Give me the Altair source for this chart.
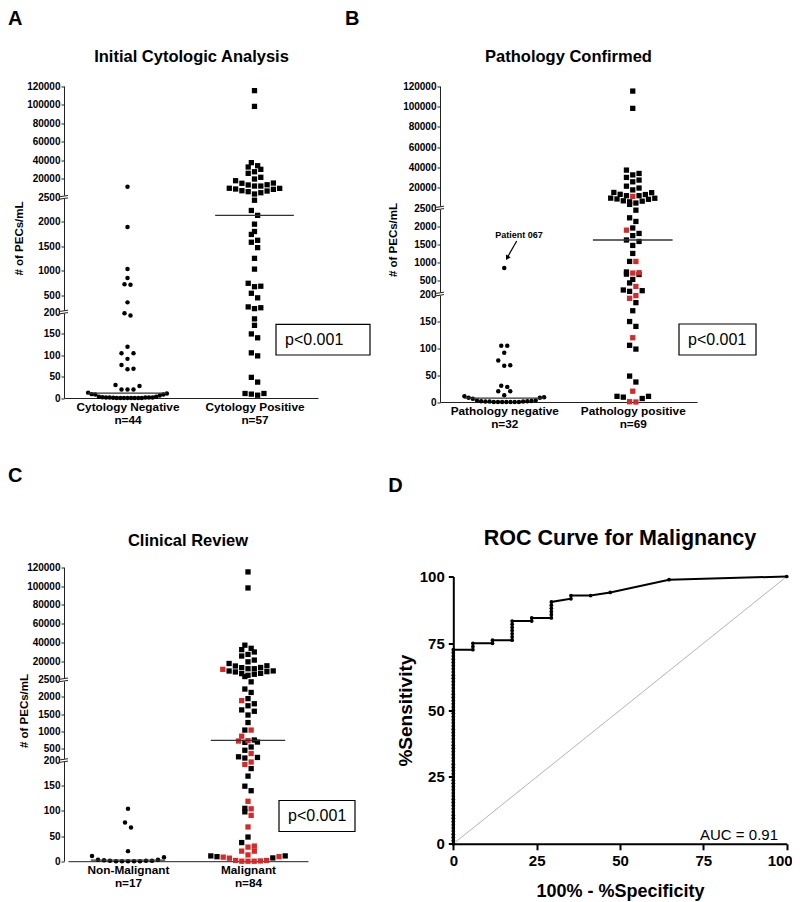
import altair as alt
import numpy as np
import pandas as pd

FONT = "Liberation Sans"
RED = "#d42a2a"
AX = "#222222"

# ---------------- data ----------------
# Cytology-negative specimens (n=44): # of PECs/mL
neg_values = [12500, 1890, 1030, 850, 720, 710, 370, 197, 192, 119,
              104, 104, 91, 77, 68, 67, 30, 28, 20, 20,
              20, 12.5, 10.5, 9, 8, 8, 6, 3, 3, 2,
              1.4, 1.4, 1, 1, 1, 0.5, 0, 0, 0, 0,
              0, 0, 0, 0]
# 1 = malignant on pathology (panel B red squares)
neg_path_pos = [1, 1, 1, 0, 1, 1, 1, 1, 1, 1,
                0, 0, 0, 0, 0, 0, 0, 0, 1, 0,
                0, 0, 0, 0, 0, 0, 0, 0, 0, 0,
                0, 0, 0, 0, 0, 1, 1, 0, 0, 0,
                0, 0, 0, 0]
# 1 = malignant on clinical review (panel C red squares)
neg_clin_mal = [1, 1, 1, 1, 1, 1, 1, 1, 1, 1,
                1, 0, 1, 0, 1, 0, 1, 1, 1, 1,
                0, 1, 0, 1, 1, 0, 1, 0, 0, 0,
                1, 1, 0, 0, 0, 1, 1, 1, 1, 0,
                0, 0, 0, 0]
# Cytology-positive specimens (n=57)
pos_values = [115000, 98000, 37300, 34000, 32600, 30100, 27500, 25800, 21500, 19700,
              18100, 15900, 15700, 14300, 14100, 13100, 13100, 11000, 10900, 10300,
              10000, 8700, 8400, 7800, 6800, 5600,
              2440, 2230, 2130, 1950, 1800, 1740, 1620, 1580, 1470, 1250,
              1030, 740, 680, 670, 535, 450, 290, 275, 260,
              184, 169, 149, 140, 105, 98, 48, 37, 10.5, 10.5, 9, 6.5]

y_ticks = [0, 50, 100, 150, 200, 500, 1000, 1500, 2000, 2500,
           20000, 40000, 60000, 80000, 100000, 120000]
y_breaks = [200, 2500]

a_labels = ["Cytology Negative", "Cytology Positive"]
b_labels = ["Pathology negative", "Pathology positive"]
c_labels = ["Non-Malignant", "Malignant"]

# ROC curve (100% - specificity, sensitivity), in curve order
roc_fpr = [0, 0, 0, 0, 0, 0, 0, 0, 0, 0, 0, 0, 0, 0, 0, 0, 0, 0, 0, 0,
           0, 0, 0, 0, 0, 0, 0, 0, 0, 0, 0, 0, 0, 0, 0, 0, 0, 0, 0, 0,
           0, 0, 0, 0, 0, 0, 0, 0, 0, 0, 0, 0, 0, 0, 0, 0, 0, 0, 0, 0,
           0, 0,
           5.88, 5.88, 5.88, 11.76, 11.76, 17.65, 17.65, 17.65, 17.65, 17.65,
           17.65, 17.65, 23.53, 23.53, 29.41, 29.41, 29.41, 29.41, 29.41, 29.41,
           35.29, 35.29, 41.18, 47.06, 64.71, 100]
roc_sens = [0, 1.19, 2.38, 3.57, 4.76, 5.95, 7.14, 8.33, 9.52, 10.71,
            11.9, 13.1, 14.29, 15.48, 16.67, 17.86, 19.05, 20.24, 21.43, 22.62,
            23.81, 25.0, 26.19, 27.38, 28.57, 29.76, 30.95, 32.14, 33.33, 34.52,
            35.71, 36.9, 38.1, 39.29, 40.48, 41.67, 42.86, 44.05, 45.24, 46.43,
            47.62, 48.81, 50.0, 51.19, 52.38, 53.57, 54.76, 55.95, 57.14, 58.33,
            59.52, 60.71, 61.9, 63.1, 64.29, 65.48, 66.67, 67.86, 69.05, 70.24,
            71.43, 72.62,
            72.62, 73.81, 75.0, 75.0, 76.19, 76.19, 77.38, 78.57, 79.76, 80.95,
            82.14, 83.33, 83.33, 84.52, 84.52, 85.71, 86.9, 88.1, 89.29, 90.48,
            91.67, 92.86, 92.86, 94.05, 98.81, 100]
diag = [0, 100]
roc_ticks = [0, 25, 50, 75, 100]

one = pd.DataFrame({"a": [0]})


def swarm(vals, ydom, yrng, step, maxhalf, thresh=6.0):
    vals = np.asarray(vals, float)
    h = yrng[0] - np.interp(vals, ydom, yrng)
    order = np.argsort(h, kind="stable")
    off = np.zeros(len(vals))
    n = len(vals)
    i = 0
    while i < n:
        j = i
        while j < n and h[order[j]] - h[order[i]] <= thresh:
            j += 1
        row = order[i:j]
        m = len(row)
        s = step if m < 2 or (m - 1) * step <= 2 * maxhalf else 2 * maxhalf / (m - 1)
        for k, idx in enumerate(row):
            if m % 2:
                slot = ((k + 1) // 2) * (1 if k % 2 else -1)
            else:
                slot = (k // 2 + 0.5) * (1 if k % 2 == 0 else -1)
            off[idx] = slot * s
        i = j
    return off


def text_layer(txt, x, y, size, weight="bold", align="center", baseline="middle", font=FONT):
    return alt.Chart(one).mark_text(text=txt, fontSize=size, fontWeight=weight, font=font,
                                    align=align, baseline=baseline, color="black").encode(
        x=alt.value(x), y=alt.value(y))


def dot_panel(g):
    neg, black, red = g["neg"], g["black"], g["red"]
    xr = g["xrange"]
    ppu = (xr[1] - xr[0]) / 2.0
    ydom, yrng = [0, 200, 500, 2500, 20000, 120000], g["yrng"]
    off_neg = swarm(neg, ydom, yrng, 6.0, 0.31 * ppu) / ppu
    posvals = list(red) + list(black)
    off_pos = swarm(posvals, ydom, yrng, 6.3, 0.31 * ppu) / ppu
    df = pd.DataFrame({
        "v": list(neg) + posvals,
        "cat": [0] * len(neg) + [1] * len(posvals),
        "grp": ["neg"] * len(neg) + ["red"] * len(red) + ["black"] * len(black),
    })
    df["x"] = df["cat"] + np.concatenate([off_neg, off_pos])
    labs = g["labels"]
    lab_expr = (f"datum.value == 0 ? ['{labs[0]}', 'n={len(neg)}'] : "
                f"['{labs[1]}', 'n={len(posvals)}']")
    X = alt.X("x:Q", scale=alt.Scale(domain=[-0.5, 1.5], range=xr, nice=False, zero=False),
              axis=alt.Axis(values=[0, 1], labelExpr=lab_expr, title=None, ticks=False, tickSize=0,
                            labelFont=FONT, labelFontSize=11.8, labelFontWeight="bold",
                            labelColor="black", labelPadding=3, labelLineHeight=13,
                            domainColor=AX, grid=False, labelFlush=False, labelOverlap=False))
    Y = alt.Y("v:Q", scale=alt.Scale(domain=ydom, range=yrng, nice=False, zero=False),
              axis=alt.Axis(values=y_ticks, format="d", title="# of PECs/mL",
                            titleX=g["ytitle"][0], titleY=g["ytitle"][1], titleAngle=270,
                            titleAlign="center", titleBaseline="middle",
                            titleFont=FONT, titleFontSize=11.5, titleFontWeight="bold",
                            titleColor="black",
                            labelFont=FONT, labelFontSize=10, labelFontWeight="bold",
                            labelColor="black", tickSize=3, tickColor=AX, domainColor=AX,
                            labelPadding=1, grid=False, labelFlush=False, labelOverlap=False))
    base = alt.Chart(df)
    layers = [
        base.transform_filter("datum.grp == 'neg'").mark_circle(size=20, color="black", opacity=1)
            .encode(x=X, y=Y),
        base.transform_filter("datum.grp == 'black'").mark_square(size=28, color="black", opacity=1)
            .encode(x=X, y=Y),
        base.transform_filter("datum.grp == 'red'").mark_square(size=28, color=RED, opacity=1)
            .encode(x=X, y=Y),
        base.transform_aggregate(v="median(v)", groupby=["cat"])
            .transform_calculate(x="datum.cat - 0.31", x2="datum.cat + 0.31")
            .mark_rule(color="#333333", strokeWidth=1.3)
            .encode(x=X, x2=alt.X2("x2:Q"), y=Y),
    ]
    brk = alt.Chart(pd.DataFrame({"v": y_breaks}))
    layers.append(brk.mark_point(shape="M-1,-0.4L1,-0.4L1,0.4L-1,0.4Z", filled=True, color="white",
                                 size=64, opacity=1, strokeWidth=0)
                  .encode(x=alt.value(0), y=Y))
    layers.append(brk.mark_point(shape="M-1,-0.15L1,-0.45M-1,0.45L1,0.15", filled=False, color=AX,
                                 size=64, opacity=1, strokeWidth=1)
                  .encode(x=alt.value(0), y=Y))
    bx = g["pbox"]
    layers.append(alt.Chart(one).mark_rect(fill="white", stroke="black", strokeWidth=1.2)
                  .encode(x=alt.value(bx[0]), x2=alt.value(bx[1]), y=alt.value(bx[2]),
                          y2=alt.value(bx[3])))
    layers.append(text_layer("p<0.001", bx[4], (bx[2] + bx[3]) / 2, 16, weight="normal",
                             align="left"))
    layers.append(text_layer(g["letter"], g["letter_xy"][0], g["letter_xy"][1], 20,
                             align="left", baseline="alphabetic"))
    layers.append(text_layer(g["title"], g["title_xy"][0], g["title_xy"][1], 16.5))
    layers.extend(g.get("extra", []))
    return alt.layer(*layers).properties(width=g["width"], height=g["height"])


A = dot_panel(dict(neg=neg_values, black=pos_values, red=[], labels=a_labels,
                   xrange=[0, 254], width=254, height=316.5,
                   yrng=[316.5, 230.5, 213.5, 115.8, 97.2, 4.5],
                   ytitle=(-44.5, 156.5), pbox=(212, 306, 242.8, 273.5, 221),
                   letter="A", letter_xy=(-56, -56.5),
                   title="Initial Cytologic Analysis", title_xy=(127.5, -24.2)))

b_neg = [v for v, p in zip(neg_values, neg_path_pos) if p == 0]
b_red = [v for v, p in zip(neg_values, neg_path_pos) if p == 1]
patient = [
    text_layer("Patient 067", 79, 153.5, 9),
    alt.Chart(one).mark_rule(color="black", strokeWidth=1.2).encode(
        x=alt.value(76.7), y=alt.value(159.5), x2=alt.value(67.6), y2=alt.value(175.5)),
    alt.Chart(one).mark_point(shape="triangle-up", filled=True, color="black", size=30,
                              angle=209, opacity=1).encode(x=alt.value(67.2), y=alt.value(176.5)),
]
B = dot_panel(dict(neg=b_neg, black=pos_values, red=b_red, labels=b_labels,
                   xrange=[0, 257], width=257, height=320.5,
                   yrng=[320.5, 212.5, 199.2, 126.5, 106.2, 4.5],
                   ytitle=(-47, 158), pbox=(239, 316, 242.5, 273.5, 248),
                   letter="B", letter_xy=(-95, -56.5),
                   title="Pathology Confirmed", title_xy=(128.5, -24.2), extra=patient))

c_neg = [v for v, p in zip(neg_values, neg_clin_mal) if p == 0]
c_red = [v for v, p in zip(neg_values, neg_clin_mal) if p == 1]
C = dot_panel(dict(neg=c_neg, black=pos_values, red=c_red, labels=c_labels,
                   xrange=[4, 244], width=244, height=298.7,
                   yrng=[298.7, 198, 185.7, 117.3, 99, 4.7],
                   ytitle=(-40, 148), pbox=(215, 291, 238, 269, 224),
                   letter="C", letter_xy=(-56, -81),
                   title="Clinical Review", title_xy=(124, -22)))

# ---------------- panel D ----------------
DX0 = 13.3  # plot-area inset inside the grid cell
roc_df = pd.DataFrame({"fx": roc_fpr, "sy": roc_sens, "i": list(range(len(roc_fpr)))})
diag_df = pd.DataFrame({"fx": diag, "sy": diag})
XD = alt.X("fx:Q", scale=alt.Scale(domain=[0, 100], range=[DX0, DX0 + 333.4], nice=False, zero=False),
           axis=alt.Axis(values=roc_ticks, title="100% - %Specificity", titleFont=FONT,
                         titleFontSize=18, titleFontWeight="bold", titleColor="black",
                         titleX=DX0 + 166.7, titleY=47.4, titleBaseline="middle",
                         labelFont=FONT, labelFontSize=15, labelFontWeight="bold",
                         labelColor="black", tickSize=6, tickWidth=2, tickColor="black",
                         domainWidth=2, domainColor="black", labelPadding=4, grid=False,
                         labelFlush=False, labelOverlap=False,
                         labelOffset={"condition": {"test": "datum.value == 100", "value": -7},
                                      "value": 0}))
YD = alt.Y("sy:Q", scale=alt.Scale(domain=[0, 100], range=[281.3, 14], nice=False, zero=False),
           axis=alt.Axis(values=roc_ticks, title="%Sensitivity", titleFont=FONT, offset=-DX0,
                         titleFontSize=19, titleFontWeight="bold", titleColor="black",
                         titleX=-48.3, titleY=147.6, titleAngle=270, titleAlign="center",
                         titleBaseline="middle",
                         labelFont=FONT, labelFontSize=15, labelFontWeight="bold",
                         labelColor="black", tickSize=5, tickWidth=2, tickColor="black",
                         domainWidth=2, domainColor="black", labelPadding=4, grid=False,
                         labelFlush=False, labelOverlap=False))
D = alt.layer(
    alt.Chart(diag_df).mark_line(color="#a0a0a0", strokeWidth=0.8).encode(x=XD, y=YD),
    alt.Chart(roc_df).mark_line(color="black", strokeWidth=2).encode(x=XD, y=YD, order="i:Q"),
    alt.Chart(roc_df).mark_circle(size=14, color="black", opacity=1).encode(x=XD, y=YD),
    text_layer("AUC = 0.91", DX0 + 324.7, 272, 15, weight="normal", align="right"),
    text_layer("D", DX0 - 65, -70.3, 20, align="left", baseline="alphabetic"),
    text_layer("ROC Curve for Malignancy", DX0 + 166.7, -24, 21.5),
).properties(width=DX0 + 333.4, height=281.3)

chart = alt.concat(A, B, C, D, columns=2, spacing={"row": 160, "column": 122},
                   bounds="flush").properties(
    autosize=alt.AutoSizeParams(type="none"),
    padding={"left": 56, "top": 73.5, "right": 728, "bottom": 820},
).configure(font=FONT).configure_view(stroke="transparent")

chart.save("out.html", embed_options={"renderer": "svg", "actions": False})
